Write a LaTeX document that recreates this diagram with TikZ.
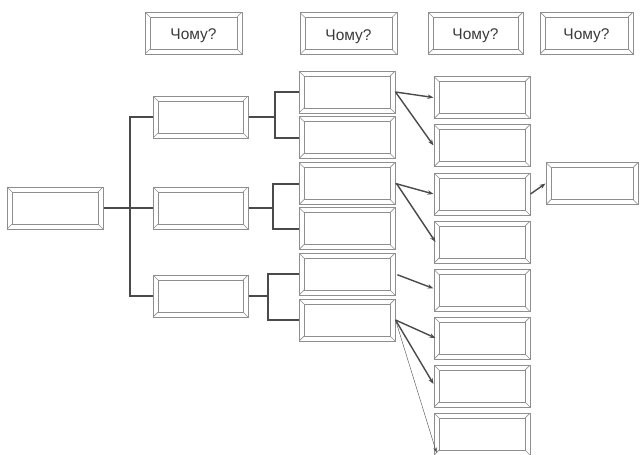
\documentclass[tikz,border=0pt]{standalone}
\usepackage{fontspec}
\setmainfont{Liberation Sans}
\usetikzlibrary{calc,arrows.meta}
\definecolor{fgray}{HTML}{8E8E8E}
\definecolor{cgray}{HTML}{4A4A4A}
\definecolor{tgray}{HTML}{3A3A3A}
\tikzset{
  frame/.style={draw=fgray, line width=1pt, minimum width=96pt, minimum height=42pt,
    inner sep=0pt, text=tgray, font=\fontsize{15.5}{17}\selectfont,
    path picture={
      \draw[fgray, line width=0.9pt]
        ($(path picture bounding box.north west)+(5pt,-5pt)$) rectangle
        ($(path picture bounding box.south east)+(-5pt,5pt)$);
      \draw[fgray, line width=0.7pt]
        (path picture bounding box.north west) -- ++(5pt,-5pt)
        (path picture bounding box.north east) -- ++(-5pt,-5pt)
        (path picture bounding box.south west) -- ++(5pt,5pt)
        (path picture bounding box.south east) -- ++(-5pt,5pt);
    }},
  qlabel/.style={label={[inner sep=0pt, yshift=-3pt, text=tgray, font=\fontsize{15.5}{17}\selectfont]center:Чому?}},
  conn/.style={draw=cgray, line width=2pt},
  arr/.style={draw=cgray, line width=1.4pt, -{Stealth[length=6pt,width=4.5pt]}},
  thinarr/.style={draw=cgray, line width=0.4pt, -{Stealth[length=5pt,width=3.5pt]}}
}
\begin{document}
\begin{tikzpicture}[x=1pt,y=-1pt]
\useasboundingbox (0,0) rectangle (640,455);
% question headers
\node[frame, qlabel, minimum width=97pt] (Q1) at (193.5,33) {};
\node[frame, qlabel, minimum width=97pt] (Q2) at (348.5,33.5) {};
\node[frame, qlabel, minimum width=95pt] (Q3) at (475.5,33) {};
\node[frame, qlabel, minimum width=93pt] (Q4) at (586.5,33) {};
% root
\node[frame] (root) at (55,208) {};
% level 1
\node[frame, minimum width=95pt] (L1a) at (200.5,117) {};
\node[frame, minimum width=95pt] (L1b) at (200.5,208) {};
\node[frame, minimum width=95pt] (L1c) at (200.5,296) {};
% level 2
\node[frame] (L2a) at (347,92) {};
\node[frame] (L2b) at (347,137.5) {};
\node[frame] (L2c) at (347,183.5) {};
\node[frame] (L2d) at (347,228.5) {};
\node[frame] (L2e) at (347,274) {};
\node[frame] (L2f) at (347,320) {};
% level 3
\node[frame] (L3a) at (482,97.5) {};
\node[frame] (L3b) at (482,145.5) {};
\node[frame] (L3c) at (482,194) {};
\node[frame] (L3d) at (482,242) {};
\node[frame] (L3e) at (482,290.5) {};
\node[frame] (L3f) at (482,338) {};
\node[frame] (L3g) at (482,386) {};
\node[frame] (L3h) at (482,434) {};
% right box
\node[frame, minimum width=92pt] (R) at (592,183.5) {};
% trunk
\coordinate (tx) at (130,0);
\draw[conn] (root.east) -- (L1b.west);
\draw[conn] (L1a.west) -| (tx |- L1c.west) -- (L1c.west);
% brackets
\coordinate (b1) at (275,117);
\coordinate (b2) at (273,208);
\coordinate (b3) at (268,296);
\draw[conn] (L1a.east) -- (b1);
\draw[conn] (L2a.west) -| (b1) |- (L2b.west);
\draw[conn] (L1b.east) -- (b2);
\draw[conn] (L2c.west) -| (b2) |- (L2d.west);
\draw[conn] (L1c.east) -- (b3);
\draw[conn] (L2e.west) -| (b3) |- (L2f.west);
% arrows
\draw[arr] (L2a.east) -- (L3a.west);
\draw[arr] (L2a.east) -- (L3b.west);
\draw[arr] (L2c.east) -- (L3c.west);
\draw[arr] ($(L2c.east)+(1pt,0)$) -- ($(L3d.west)+(2pt,0)$);
\draw[arr, shorten <=2pt] (L2e.east) -- ($(L3e.west)+(0,-2)$);
\draw[arr] (L2f.east) -- ($(L3f.west)+(2pt,0)$);
\draw[arr] (L2f.east) -- ($(L3g.west)+(0,-2)$);
\draw[thinarr] (L2f.east) -- ($(L3h.south west)+(3,-3)$);
\draw[arr] (L3c.east) -- (R.west);
\end{tikzpicture}
\end{document}
